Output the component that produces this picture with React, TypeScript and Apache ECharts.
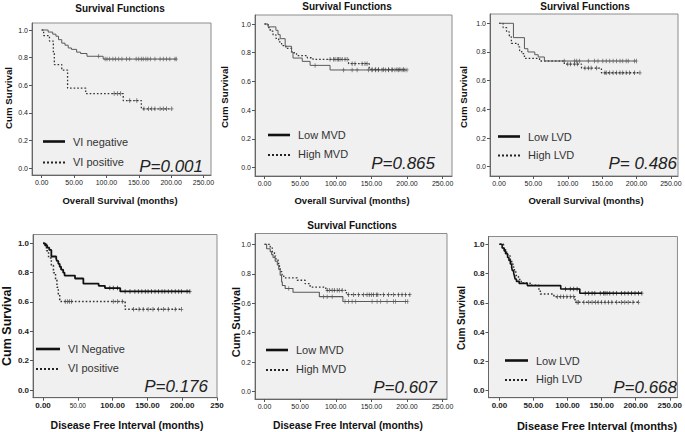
import React, { useEffect, useRef } from "react";
import * as echarts from "echarts";

// ---------- DATA (months, cumulative survival) ----------
// Panel 1: Overall survival by VI
const p1NegTimes = [0, 10, 17, 22, 26, 31, 36, 41, 46, 54, 60, 70, 95];
const p1NegSurv = [1, 0.985, 0.97, 0.955, 0.93, 0.905, 0.89, 0.87, 0.86, 0.84, 0.83, 0.81, 0.79];
const p1NegCensor = [88, 98, 101, 105, 110, 114, 119, 124, 131, 136, 146, 150, 154, 157, 161, 164, 168, 175, 183, 188, 193, 198, 206, 208];
const p1PosTimes = [0, 3, 12, 18, 19.5, 31, 40, 68, 126, 154];
const p1PosSurv = [1, 0.96, 0.92, 0.83, 0.75, 0.71, 0.58, 0.54, 0.49, 0.43];
const p1PosCensor = [112, 117, 122, 136, 147, 158, 165, 170, 175, 183, 188, 193, 201];

// Panel 2: Overall survival by MVD
const p2LowTimes = [0, 5, 16, 19, 22, 29, 38, 40, 53, 64, 92];
const p2LowSurv = [1, 0.98, 0.956, 0.926, 0.898, 0.845, 0.805, 0.763, 0.74, 0.712, 0.68];
const p2LowCensor = [71, 111, 123, 130, 146, 151, 156, 160, 165, 170, 174, 179, 183, 188, 193, 197, 200];
const p2HighTimes = [0, 5, 8, 12, 16, 20, 24, 30, 38, 45, 60, 68, 118, 147];
const p2HighSurv = [1, 0.975, 0.95, 0.925, 0.9, 0.875, 0.85, 0.83, 0.8, 0.78, 0.765, 0.754, 0.724, 0.684];
const p2HighCensor = [92, 97, 99, 102, 104, 106, 109, 113, 116, 123, 127, 137, 141, 144, 151, 156, 160, 167, 174, 179, 186, 190, 195];

// Panel 3: Overall survival by LVD
const p3LowTimes = [0, 21, 37, 42, 52, 57, 66];
const p3LowSurv = [1, 0.9, 0.823, 0.8, 0.781, 0.765, 0.737];
const p3LowCensor = [95, 110, 113, 117, 130, 139, 144, 151, 156, 161, 166, 171, 176, 180, 185, 188, 197, 200];
const p3HighTimes = [0, 6, 11, 15, 18, 28, 30, 33, 37, 59, 95, 120, 149];
const p3HighSurv = [1, 0.97, 0.94, 0.905, 0.86, 0.835, 0.81, 0.788, 0.755, 0.737, 0.716, 0.688, 0.655];
const p3HighCensor = [100, 104, 110, 114, 125, 130, 134, 142, 154, 156, 161, 166, 171, 176, 180, 185, 190, 197, 205];

// Panel 4: Disease free interval by VI
const p4NegTimes = [0, 3, 6, 9, 12, 19, 20, 22, 24, 26, 29, 31, 46, 58, 80, 89, 111];
const p4NegSurv = [1, 0.985, 0.97, 0.955, 0.91, 0.895, 0.88, 0.86, 0.84, 0.82, 0.8, 0.78, 0.76, 0.725, 0.71, 0.695, 0.672];
const p4NegCensor = [96, 101, 107, 118, 125, 132, 137, 142, 147, 151, 156, 161, 166, 171, 175, 180, 185, 190, 195, 199, 207, 211];
const p4PosTimes = [0, 5, 8, 12, 15, 18, 20, 22, 24, 118];
const p4PosSurv = [1, 0.95, 0.9, 0.85, 0.8, 0.75, 0.7, 0.65, 0.604, 0.55];
const p4PosCensor = [32, 35, 38, 41, 101, 107, 114, 130, 138, 144, 151, 158, 166, 173, 180, 190, 199];

// Panel 5: Disease free interval by MVD
const p5LowTimes = [0, 3, 8, 10, 12, 15, 18, 20, 22, 24, 25, 29, 40, 77, 110];
const p5LowSurv = [1, 0.97, 0.95, 0.93, 0.91, 0.885, 0.86, 0.83, 0.79, 0.745, 0.72, 0.7, 0.675, 0.645, 0.612];
const p5LowCensor = [34, 83, 88, 95, 113, 118, 123, 128, 151, 158, 163, 172, 181, 184, 198, 201];
const p5HighTimes = [0, 8, 11, 14, 16, 19, 21, 22, 24.5, 27, 46, 57, 64, 86, 115];
const p5HighSurv = [1, 0.975, 0.948, 0.92, 0.9, 0.87, 0.84, 0.815, 0.795, 0.772, 0.756, 0.733, 0.71, 0.688, 0.658];
const p5HighCensor = [88, 91, 95, 98, 102, 105, 109, 118, 125, 132, 139, 144, 147, 150, 153, 157, 159, 167, 174, 181, 188, 193, 198, 204];

// Panel 6: Disease free interval by LVD
const p6LowTimes = [0, 4, 7, 9, 12, 14, 16, 18, 19, 21, 22, 23, 25, 29, 41, 90, 118];
const p6LowSurv = [1, 0.975, 0.955, 0.935, 0.91, 0.89, 0.865, 0.843, 0.82, 0.8, 0.785, 0.763, 0.747, 0.733, 0.718, 0.695, 0.666];
const p6LowCensor = [97, 104, 109, 114, 126, 131, 136, 140, 148, 153, 155, 158, 162, 167, 172, 179, 184, 189, 194, 199, 204, 209];
const p6HighTimes = [0, 6, 9, 12, 16, 18, 20, 22, 24, 25, 28, 32, 45, 58, 60, 80, 111];
const p6HighSurv = [1, 0.97, 0.945, 0.92, 0.888, 0.866, 0.845, 0.82, 0.8, 0.78, 0.76, 0.735, 0.72, 0.688, 0.66, 0.642, 0.604];
const p6HighCensor = [85, 90, 94, 99, 104, 109, 114, 116, 124, 131, 136, 141, 145, 150, 155, 160, 165, 172, 179, 184, 189, 196, 204];

const xTicks = [0, 50, 100, 150, 200, 250];
const yTicks = [0, 0.2, 0.4, 0.6, 0.8, 1.0];
const titles = ["Survival Functions", "Survival Functions", "Survival Functions", "", "Survival Functions", ""];
const xNames = [
  "Overall Survival (months)", "Overall Survival (months)", "Overall Survival (months)",
  "Disease Free Interval (months)", "Disease Free Interval (months)", "Disease Free Interval (months)",
];
const yName = "Cum Survival";
const legendSolid = ["VI negative", "Low MVD", "Low LVD", "VI Negative", "Low MVD", "Low LVD"];
const legendDotted = ["VI positive", "High MVD", "High LVD", "VI positive", "High MVD", "High LVD"];
const pValues = ["P=0.001", "P=0.865", "P= 0.486", "P=0.176", "P=0.607", "P=0.668"];

// ---------- LAYOUT ----------
const FONT = '"Liberation Sans", Arial, Helvetica, sans-serif';
type Curve = { times: number[]; surv: number[]; censor: number[] };
const curves: [Curve, Curve][] = [
  [{ times: p1NegTimes, surv: p1NegSurv, censor: p1NegCensor }, { times: p1PosTimes, surv: p1PosSurv, censor: p1PosCensor }],
  [{ times: p2LowTimes, surv: p2LowSurv, censor: p2LowCensor }, { times: p2HighTimes, surv: p2HighSurv, censor: p2HighCensor }],
  [{ times: p3LowTimes, surv: p3LowSurv, censor: p3LowCensor }, { times: p3HighTimes, surv: p3HighSurv, censor: p3HighCensor }],
  [{ times: p4NegTimes, surv: p4NegSurv, censor: p4NegCensor }, { times: p4PosTimes, surv: p4PosSurv, censor: p4PosCensor }],
  [{ times: p5LowTimes, surv: p5LowSurv, censor: p5LowCensor }, { times: p5HighTimes, surv: p5HighSurv, censor: p5HighCensor }],
  [{ times: p6LowTimes, surv: p6LowSurv, censor: p6LowCensor }, { times: p6HighTimes, surv: p6HighSurv, censor: p6HighCensor }],
];

type Layout = {
  box: [number, number, number, number];
  x0: number; k: number; y1: number; y0: number;
  title: [number, number];
  xName: [number, number, number];
  yName: [number, number, number];
  leg: [number, number, number, number];
  p: [number, number];
  bold: boolean;
  solidW: number; solidC: string;
};
const layouts: Layout[] = [
  { box: [32, 23, 211, 175], x0: 41.7, k: 0.647, y1: 30, y0: 168.3, title: [120, 8], xName: [120, 200, 9.5], yName: [8, 98, 9.7], leg: [43, 65, 141.5, 162.5], p: [203, 166], bold: false, solidW: 1, solidC: "#5a5a5a" },
  { box: [255, 15, 452, 176], x0: 264.5, k: 0.7125, y1: 24, y0: 167.7, title: [347, 6], xName: [352, 200, 9.5], yName: [224, 97, 9.7], leg: [268, 290, 135, 155], p: [435, 163], bold: false, solidW: 1, solidC: "#5a5a5a" },
  { box: [490, 14, 678, 176], x0: 499, k: 0.6875, y1: 23.3, y0: 166.7, title: [585, 6.5], xName: [586, 200, 9.5], yName: [463, 97, 9.7], leg: [498, 520, 136.5, 155.5], p: [677, 163], bold: false, solidW: 1, solidC: "#5a5a5a" },
  { box: [33, 234.5, 217, 397.7], x0: 43, k: 0.696, y1: 243.3, y0: 390, title: [0, 0], xName: [127, 425, 10.5], yName: [7, 326, 12.5], leg: [36, 60, 349, 369], p: [208, 386.5], bold: true, solidW: 1.8, solidC: "#111" },
  { box: [255, 233.5, 447, 399], x0: 264.5, k: 0.7125, y1: 244.3, y0: 391.7, title: [352, 225], xName: [348, 425, 10.3], yName: [236, 322, 11], leg: [266, 288, 350, 370], p: [437, 387], bold: false, solidW: 1.1, solidC: "#5a5a5a" },
  { box: [488.5, 236.5, 679, 397.7], x0: 499.5, k: 0.687, y1: 244.3, y0: 390.7, title: [0, 0], xName: [597, 425.5, 11], yName: [461.5, 318, 10], leg: [505, 528, 360.5, 380], p: [677, 387], bold: true, solidW: 1.6, solidC: "#111" },
];

const PLUS = "path://M0.38,0H0.62V0.42H1V0.58H0.62V1H0.38V0.58H0V0.42H0.38Z";

function survAt(c: Curve, t: number): number {
  let s = c.surv[0];
  for (let i = 0; i < c.times.length; i++) if (c.times[i] <= t) s = c.surv[i];
  return s;
}
function stepData(c: Curve): number[][] {
  const d = c.times.map((t, i) => [t, c.surv[i]]);
  const end = Math.max(c.times[c.times.length - 1], ...c.censor);
  d.push([end, c.surv[c.surv.length - 1]]);
  return d;
}

function buildOption() {
  const grid: any[] = [], xAxis: any[] = [], yAxis: any[] = [], series: any[] = [], graphic: any[] = [];
  layouts.forEach((L, i) => {
    const [l, t, r, b] = L.box;
    grid.push({ left: l, top: t, width: r - l, height: b - t, show: true, backgroundColor: "#f0f0f0", borderColor: "#8c8c8c", borderWidth: 1 });
    const lblFont = L.bold ? { fontSize: 8, fontWeight: "bold" } : { fontSize: 7, fontWeight: "normal" };
    xAxis.push({
      type: "value", gridIndex: i,
      min: (l - L.x0) / L.k, max: (r - L.x0) / L.k,
      splitLine: { show: false },
      axisLine: { show: true, onZero: false, lineStyle: { color: "#666", width: 1 } },
      axisTick: { show: true, customValues: xTicks, length: 3, lineStyle: { color: "#555" } },
      axisLabel: {
        customValues: xTicks, margin: 4, color: "#222", fontFamily: FONT, ...lblFont,
        formatter: (v: number) => (i === 3 && v === 250 ? "250" : i === 3 && v === 50 ? "{s|50.00}" : v.toFixed(2)),
        rich: { s: { fontSize: 6.5, fontWeight: "normal", color: "#222", fontFamily: FONT } },
      },
    });
    const span = L.y0 - L.y1;
    yAxis.push({
      type: "value", gridIndex: i,
      min: (L.y0 - b) / span, max: (L.y0 - t) / span,
      splitLine: { show: false },
      axisLine: { show: true, onZero: false, lineStyle: { color: "#666", width: 1 } },
      axisTick: { show: true, customValues: yTicks, length: 3, lineStyle: { color: "#555" } },
      axisLabel: { customValues: yTicks, margin: 4, color: "#222", fontFamily: FONT, ...lblFont, formatter: (v: number) => v.toFixed(1) },
    });
    const [solid, dotted] = curves[i];
    const dotW = L.bold ? 1.5 : 1.3;
    series.push({
      type: "line", xAxisIndex: i, yAxisIndex: i, step: "end", showSymbol: false, silent: true,
      data: stepData(solid), lineStyle: { color: L.solidC, width: L.solidW }, z: 3,
    });
    series.push({
      type: "line", xAxisIndex: i, yAxisIndex: i, step: "end", showSymbol: false, silent: true,
      data: stepData(dotted), lineStyle: { color: "#333", width: dotW, type: [1.6, 2] }, z: 2,
    });
    series.push({
      type: "scatter", xAxisIndex: i, yAxisIndex: i, symbol: PLUS, symbolSize: [3.5, 4.5], silent: true,
      data: solid.censor.map((c) => [c, survAt(solid, c)]), itemStyle: { color: L.solidC }, z: 4,
    });
    series.push({
      type: "scatter", xAxisIndex: i, yAxisIndex: i, symbol: PLUS, symbolSize: [3.5, 4.5], silent: true,
      data: dotted.censor.map((c) => [c, survAt(dotted, c)]), itemStyle: { color: "#444" }, z: 4,
    });

    if (titles[i]) {
      graphic.push({ type: "text", x: L.title[0], y: L.title[1], style: { text: titles[i], font: `bold 10px ${FONT}`, fill: "#111", align: "center", verticalAlign: "middle" } });
    }
    graphic.push({ type: "text", x: L.xName[0], y: L.xName[1], style: { text: xNames[i], font: `bold ${L.xName[2]}px ${FONT}`, fill: "#111", align: "center", verticalAlign: "middle" } });
    graphic.push({ type: "text", x: L.yName[0], y: L.yName[1], rotation: Math.PI / 2, style: { text: yName, font: `bold ${L.yName[2]}px ${FONT}`, fill: "#111", align: "center", verticalAlign: "middle" } });
    const [lx1, lx2, ly1, ly2] = L.leg;
    graphic.push({ type: "line", shape: { x1: lx1, y1: ly1, x2: lx2, y2: ly1 }, style: { stroke: "#111", lineWidth: 2.6 }, z: 10 });
    graphic.push({ type: "line", shape: { x1: lx1, y1: ly2, x2: lx2, y2: ly2 }, style: { stroke: "#222", lineWidth: 2, lineDash: [2, 2] }, z: 10 });
    graphic.push({ type: "text", x: lx2 + 8, y: ly1, style: { text: legendSolid[i], font: `11px ${FONT}`, fill: "#333", align: "left", verticalAlign: "middle" }, z: 10 });
    graphic.push({ type: "text", x: lx2 + 8, y: ly2 - 1, style: { text: legendDotted[i], font: `11px ${FONT}`, fill: "#333", align: "left", verticalAlign: "middle" }, z: 10 });
    graphic.push({ type: "text", x: L.p[0], y: L.p[1], style: { text: pValues[i], font: `italic 17px ${FONT}`, fill: "#222", align: "right", verticalAlign: "middle" }, z: 10 });
  });
  return { animation: false, backgroundColor: "#ffffff", grid, xAxis, yAxis, series, graphic };
}

export default function App() {
  const ref = useRef<HTMLDivElement>(null);
  useEffect(() => {
    document.body.style.margin = "0";
    if (!ref.current) return;
    const chart = echarts.init(ref.current, undefined, { renderer: "svg" });
    chart.setOption(buildOption() as any);
    return () => chart.dispose();
  }, []);
  return <div ref={ref} style={{ width: 685, height: 432 }} />;
}
